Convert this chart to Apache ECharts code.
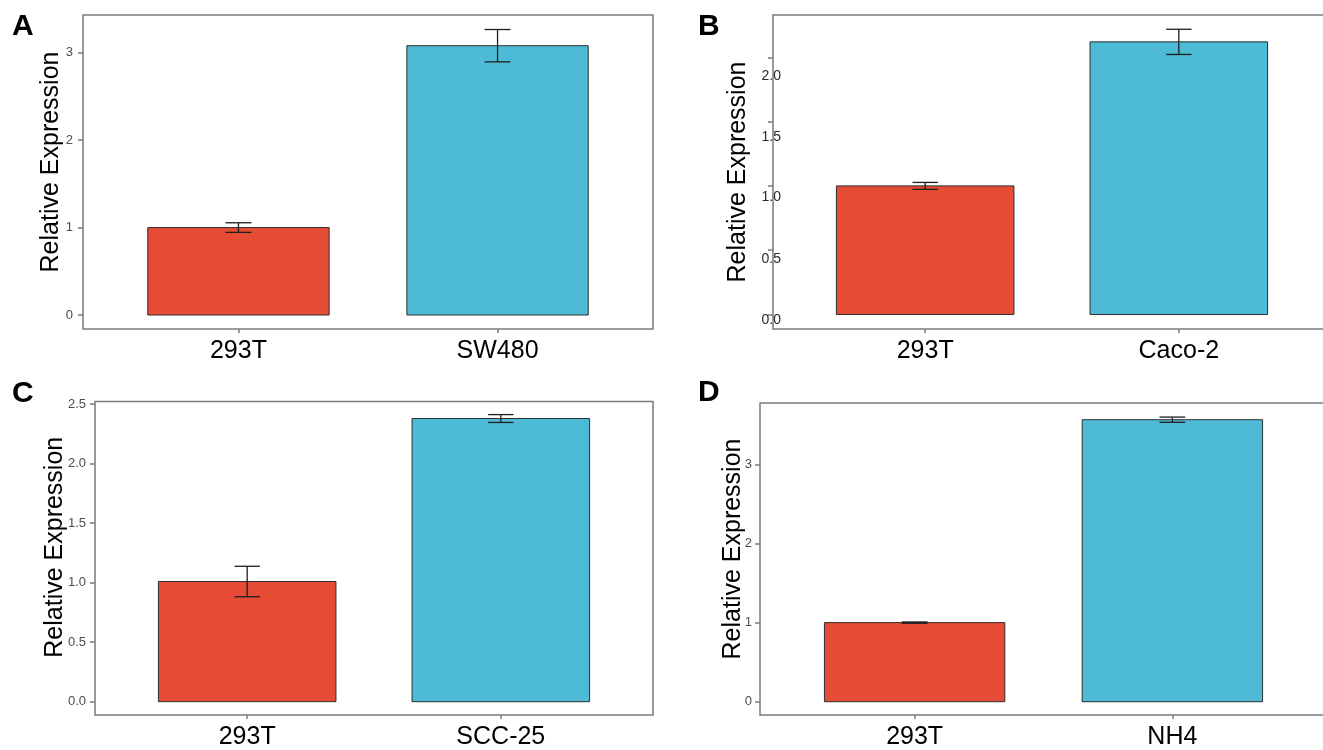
<!DOCTYPE html>
<html>
<head>
<meta charset="utf-8">
<script src="https://cdn.jsdelivr.net/npm/echarts@6/dist/echarts.min.js"></script>
<style>html,body{margin:0;padding:0;background:#fff;}#c{width:1323px;height:750px;}</style>
</head>
<body>
<div id="c"></div>
<script>
// ---- data ----
const catsA = ['293T', 'SW480'];
const valsA = [1.00, 3.08];
const errsA = [0.055, 0.185];
const ticksA = [0, 1, 2, 3];

const catsB = ['293T', 'Caco-2'];
const valsB = [1.00, 2.12];
const errsB = [0.027, 0.098];
const ticksB = [0, 0.5, 1.0, 1.5, 2.0];
const tickLabelsB = ['0.0', '0.5', '1.0', '1.5', '2.0'];

const catsC = ['293T', 'SCC-25'];
const valsC = [1.01, 2.38];
const errsC = [0.128, 0.033];
const ticksC = [0, 0.5, 1.0, 1.5, 2.0, 2.5];

const catsD = ['293T', 'NH4'];
const valsD = [1.00, 3.565];
const errsD = [0.008, 0.033];
const ticksD = [0, 1, 2, 3];

const panelLetters = ['A', 'B', 'C', 'D'];
const yTitle = 'Relative Expression';

// ---- styling / layout ----
const FONT = 'Liberation Sans, Arial, Helvetica, sans-serif';
const barColors = ['#E64B35', '#4DBBD5'];
const frameColor = '#7a7a7a';

// in panel B the printed tick labels sit slightly below their tick marks
const labelPosB = [-0.045, 0.43, 0.91, 1.38, 1.855];

const grids = [
  {left: 83, top: 15, width: 570, height: 314},
  {left: 773, top: 15, width: 558, height: 314},
  {left: 95, top: 401.5, width: 558, height: 313.5},
  {left: 760, top: 403, width: 567, height: 312}
];
const yRanges = [[-0.160, 3.431], [-0.113, 2.329], [-0.112, 2.523], [-0.168, 3.776]];
const nameGaps = [19, 22, 27, 14];
const namePads = [[0, 0, 0, 20], [0, 0, 0, 0], [0, 0, 0, 22], [0, 0, 0, 20]];
const labelMargins = [10, -8, 9, 8];
const letterPos = [[12, 12], [698, 12], [12, 379], [698, 378]];

const cats = [catsA, catsB, catsC, catsD];
const vals = [valsA, valsB, valsC, valsD];
const errs = [errsA, errsB, errsC, errsD];
const ticks = [ticksA, ticksB, ticksC, ticksD];

function renderBar(params, api) {
  const x = api.value(0), v = api.value(1), e = api.value(2);
  const p0 = api.coord([x - 0.35, v]);
  const p1 = api.coord([x + 0.35, 0]);
  const t = api.coord([x, v + e]);
  const b = api.coord([x, v - e]);
  const tl = api.coord([x - 0.05, v + e]);
  const tr = api.coord([x + 0.05, v + e]);
  const bl = api.coord([x - 0.05, v - e]);
  const br = api.coord([x + 0.05, v - e]);
  const ls = {stroke: '#1e1e1e', lineWidth: 1.3};
  return {
    type: 'group',
    children: [
      {type: 'rect', shape: {x: p0[0], y: p0[1], width: p1[0] - p0[0], height: p1[1] - p0[1]},
        style: {fill: barColors[params.dataIndex], stroke: '#2e2e2e', lineWidth: 1}},
      {type: 'line', shape: {x1: t[0], y1: t[1], x2: b[0], y2: b[1]}, style: ls},
      {type: 'line', shape: {x1: tl[0], y1: tl[1], x2: tr[0], y2: tr[1]}, style: ls},
      {type: 'line', shape: {x1: bl[0], y1: bl[1], x2: br[0], y2: br[1]}, style: ls}
    ]
  };
}

function nearestB(v) {
  let bi = 0;
  labelPosB.forEach((p, k) => { if (Math.abs(p - v) < Math.abs(labelPosB[bi] - v)) bi = k; });
  return tickLabelsB[bi];
}

const option = {
  animation: false,
  backgroundColor: '#fff',
  title: panelLetters.map((L, i) => ({
    text: L, left: letterPos[i][0], top: letterPos[i][1], padding: 0,
    textStyle: {fontSize: 30, fontWeight: 'bold', color: '#000', fontFamily: FONT}
  })),
  grid: grids.map(g => Object.assign({
    show: true, borderColor: frameColor, borderWidth: 1.5, backgroundColor: 'transparent',
    containLabel: false, outerBoundsMode: 'none'
  }, g)),
  xAxis: cats.map((c, i) => ({
    gridIndex: i, type: 'value', min: 0.4, max: 2.6,
    splitLine: {show: false},
    axisLine: {show: false, onZero: false},
    axisTick: {show: true, customValues: [1, 2], length: 4, lineStyle: {color: frameColor, width: 1.5}},
    axisLabel: {
      customValues: [1, 2], margin: 10, fontSize: 25, color: '#000', fontFamily: FONT,
      formatter: v => c[Math.round(v) - 1]
    }
  })),
  yAxis: ticks.map((tk, i) => ({
    gridIndex: i, type: 'value', min: yRanges[i][0], max: yRanges[i][1],
    name: yTitle, nameLocation: 'middle', nameGap: nameGaps[i], nameRotate: 90,
    nameMoveOverlap: false,
    nameTextStyle: {fontSize: 25, color: '#000', fontFamily: FONT, padding: namePads[i]},
    splitLine: {show: false},
    axisLine: {show: false, onZero: false},
    axisTick: {show: true, customValues: tk, length: 5, lineStyle: {color: frameColor, width: 1.5}},
    axisLabel: i === 1 ? {
      customValues: labelPosB, margin: labelMargins[i], fontSize: 14, color: '#2a2a2a', fontFamily: FONT,
      formatter: v => nearestB(v)
    } : {
      customValues: tk, margin: labelMargins[i], fontSize: 13, color: '#4d4d4d', fontFamily: FONT,
      formatter: v => (i === 2 ? v.toFixed(1) : String(v))
    }
  })),
  series: cats.map((c, i) => ({
    type: 'custom', xAxisIndex: i, yAxisIndex: i,
    renderItem: renderBar,
    encode: {x: 0, y: 1},
    data: c.map((name, k) => [k + 1, vals[i][k], errs[i][k]])
  }))
};

const chart = echarts.init(document.getElementById('c'), null, {renderer: 'canvas'});
chart.setOption(option);
</script>
</body>
</html>
